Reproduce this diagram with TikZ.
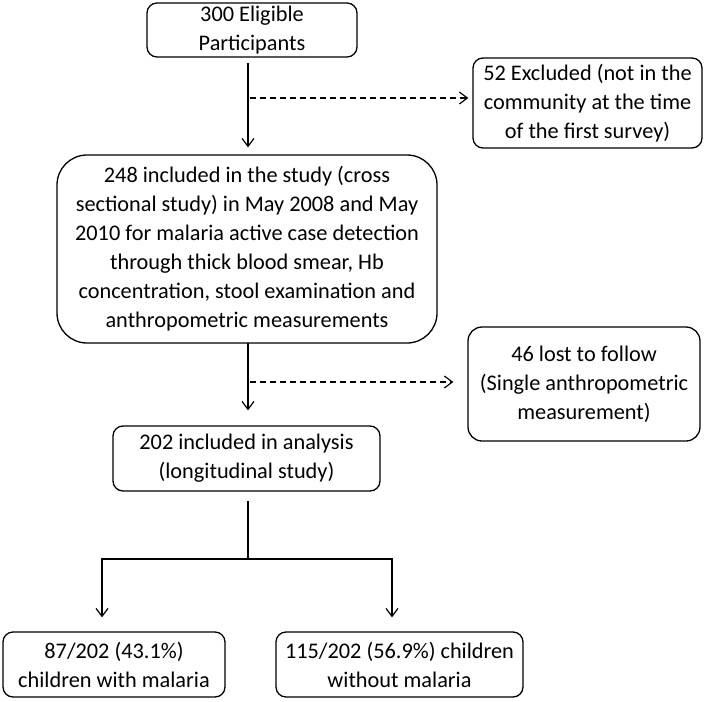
\documentclass[tikz,border=0pt]{standalone}
\usepackage{fontspec}
\setmainfont{Carlito}
\usetikzlibrary{arrows.meta,calc}
\begin{document}
\begin{tikzpicture}[x=1pt,y=-1pt,
  box/.style={draw,line width=1.3pt,rounded corners=10pt,align=center,inner sep=0pt,
    font=\fontsize{22.3}{29}\selectfont},
  conn/.style={line width=1.3pt,-{Straight Barb[length=8pt,width=12pt,line width=1.2pt]}},
  dconn/.style={conn,dash pattern=on 6pt off 4pt}]
\useasboundingbox (0,0) rectangle (714,701);
\node[box,minimum width=210,minimum height=54] (b1) at (252,30) {300 Eligible\\Participants};
\node[box,minimum width=229,minimum height=90] (b52) at (587.5,103) {52 Excluded (not in the\\community at the time\\of the first survey)};
\node[box,rounded corners=30pt,minimum width=380,minimum height=188] (b2) at (247,249)
  {248 included in the study (cross\\sectional study) in May 2008 and May\\2010 for malaria active case detection\\through thick blood smear, Hb\\concentration, stool examination and\\anthropometric measurements};
\node[box,rounded corners=14pt,minimum width=232,minimum height=114] (b46) at (584,384) {46 lost to follow\\(Single anthropometric\\measurement)};
\node[box,minimum width=267,minimum height=65] (b3) at (246.5,458.5) {202 included in analysis\\(longitudinal study)};
\node[box,minimum width=222,minimum height=65] (b87) at (114,664.5) {87/202 (43.1\%)\\children with malaria};
\node[box,minimum width=247,minimum height=65] (b115) at (399.5,664.5) {115/202 (56.9\%) children\\without malaria};
\coordinate (s1) at (248,63);
\coordinate (d1) at (250,98);
\coordinate (s2) at (248,343);
\coordinate (d2) at (250,382);
\coordinate (s3) at (248,501);
\coordinate (sp) at (248,559);
\coordinate (sl) at (102,559);
\coordinate (sr) at (392,559);
\draw[conn,shorten >=7pt] (s1) -- (s1 |- b2.north);
\draw[dconn,shorten >=4pt] (d1) -- (d1 -| b52.west);
\draw[conn,shorten >=15pt] (s2) -- (s2 |- b3.north);
\draw[dconn,shorten >=14pt] (d2) -- (d2 -| b46.west);
\draw[line width=1.3pt] (s3) -- (sp);
\draw[conn,shorten >=14pt] (sp) -- (sl) -- (sl |- b87.north);
\draw[conn,shorten >=14pt] (sp) -- (sr) -- (sr |- b115.north);
\end{tikzpicture}
\end{document}
